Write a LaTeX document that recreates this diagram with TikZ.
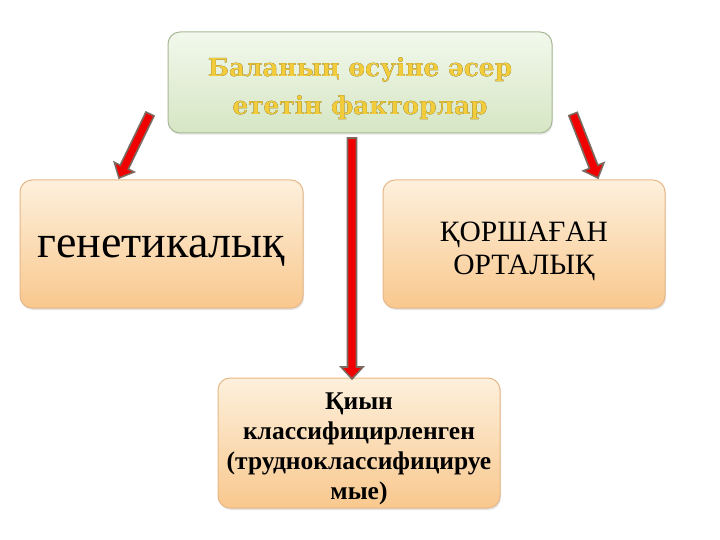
\documentclass[tikz,border=0pt]{standalone}
\usepackage{fontspec}
\setmainfont{Liberation Serif}
\newfontfamily\titlefont{DejaVu Serif}
\usepackage[outline]{contour}
\usetikzlibrary{calc,shadows}
\definecolor{gbord}{HTML}{A8B898}
\definecolor{gtop}{HTML}{F2F8EC}
\definecolor{gbot}{HTML}{D6E6C4}
\definecolor{otop}{HTML}{FDF0DC}
\definecolor{obot}{HTML}{F9C88E}
\definecolor{obord}{HTML}{E6B888}
\definecolor{goldtxt}{HTML}{F2CC3A}
\definecolor{goldline}{HTML}{3A2A00}
\definecolor{arrred}{HTML}{F00000}
\definecolor{arrgray}{HTML}{7A6A60}
\tikzset{
  greenbox/.style={draw=gbord, line width=1pt, rounded corners=12pt, top color=gtop, bottom color=gbot, drop shadow={opacity=0.15,shadow xshift=1pt,shadow yshift=-2pt}},
  orangebox/.style={draw=obord, line width=1pt, rounded corners=12pt, top color=otop, bottom color=obot, drop shadow={opacity=0.2,shadow xshift=1pt,shadow yshift=-2pt}},
  redarrow/.style={draw=arrgray, line width=1.6pt, fill=arrred, line join=miter}
}
\newcommand\blockarrow[2]{%
  \draw[redarrow] let \p1=(#1), \p2=(#2), \n1={atan2(\y2-\y1,\x2-\x1)}, \n2={veclen(\x2-\x1,\y2-\y1)} in
    [shift={(\p1)}, rotate=\n1] (0,-4.5) -- (\n2-12,-4.5) -- (\n2-12,-11) -- (\n2,0) -- (\n2-12,11) -- (\n2-12,4.5) -- (0,4.5) -- cycle;}
\begin{document}
\begin{tikzpicture}[x=1pt,y=-1pt]
\useasboundingbox (0,0) rectangle (720,540);
\fill[white] (0,0) rectangle (720,540);
% boxes
\path[greenbox] (168,32) rectangle (552,133);
\node (top) at (360,89) [align=center, font=\titlefont\bfseries\fontsize{24.8}{38}\selectfont] {\contourlength{0.9pt}\contour{goldline}{\textcolor{goldtxt}{Баланың өсуіне әсер}}\\\contour{goldline}{\textcolor{goldtxt}{ететін факторлар}}};
\path[orangebox] (20,180) rectangle (303,308);
\node (gen) at (161.5,251) [font=\fontsize{46}{50}\selectfont] {генетикалық};
\path[orangebox] (383,180) rectangle (665,308);
\node (env) at (524,251) [align=center, font=\fontsize{29.5}{33}\selectfont] {ҚОРШАҒАН\\ОРТАЛЫҚ};
\path[orangebox] (218,378) rectangle (500,508);
\node (hard) at (359,449) [align=center, font=\bfseries\fontsize{25.5}{30}\selectfont] {Қиын\\классифицирленген\\(трудноклассифицируе\\мые)};
% arrows
\coordinate (la) at (150,114);
\coordinate (lb) at (119,178);
\coordinate (ma) at (352,138);
\coordinate (mb) at (352,379);
\coordinate (ra) at (573,114);
\coordinate (rb) at (598,178);
\blockarrow{la}{lb}
\blockarrow{ma}{mb}
\blockarrow{ra}{rb}
\end{tikzpicture}
\end{document}
